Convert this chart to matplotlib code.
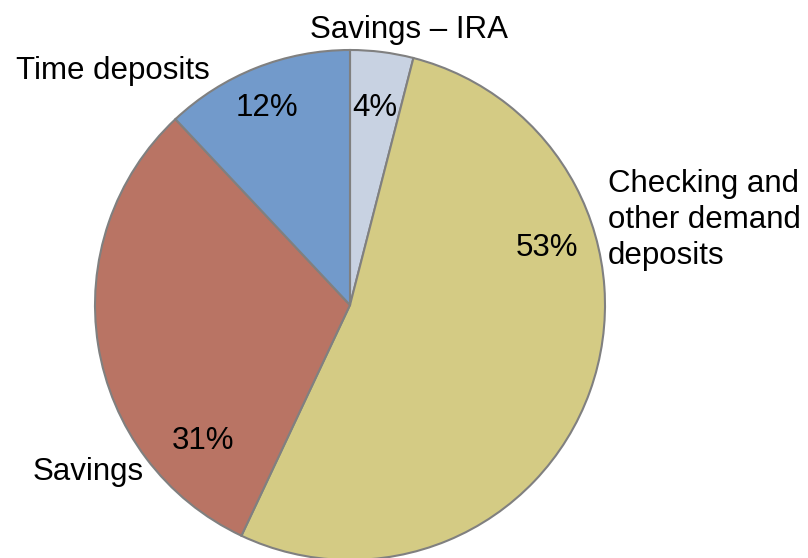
import matplotlib.pyplot as plt

# slice data, clockwise from the top
labels = ["Savings \u2013 IRA", "Checking and\nother demand\ndeposits", "Savings", "Time deposits"]
shares = [4, 53, 31, 12]
pct_text = ["4%", "53%", "31%", "12%"]
colors = ["#C8D2E2", "#D4CB84", "#B97464", "#729ACB"]

plt.rcParams['font.family'] = ['Liberation Sans', 'DejaVu Sans']

fig = plt.figure(figsize=(8.08, 5.58), dpi=100)
ax = fig.add_axes([0, 0, 1, 1])

# pie in pixel-like coords
cx, cy, r = 350, 253, 255
wedges, _ = ax.pie(shares, colors=colors, startangle=90, counterclock=False,
                   center=(cx, cy), radius=r, frame=True,
                   wedgeprops=dict(edgecolor="#808080", linewidth=1.5))
ax.set_xlim(0, 808)
ax.set_ylim(0, 558)
ax.set_aspect('equal')
ax.set_axis_off()

# percent labels (offsets from center, pixels)
pct_pos = [(25, 197), (197, 57), (-147, -136), (-83, 197)]
for t, (dx, dy) in zip(pct_text, pct_pos):
    ax.text(cx + dx, cy + dy, t, ha='center', va='center', fontsize=22.5)

# category labels
lab_pos = [(409, 528, 'center'), (608, 338, 'left'), (88, 86, 'center'), (113, 487, 'center')]
for t, (x, y, ha) in zip(labels, lab_pos):
    ax.text(x, y, t, ha=ha, va='center', fontsize=22.5, linespacing=1.27)

fig.savefig("out.png", dpi=100)
